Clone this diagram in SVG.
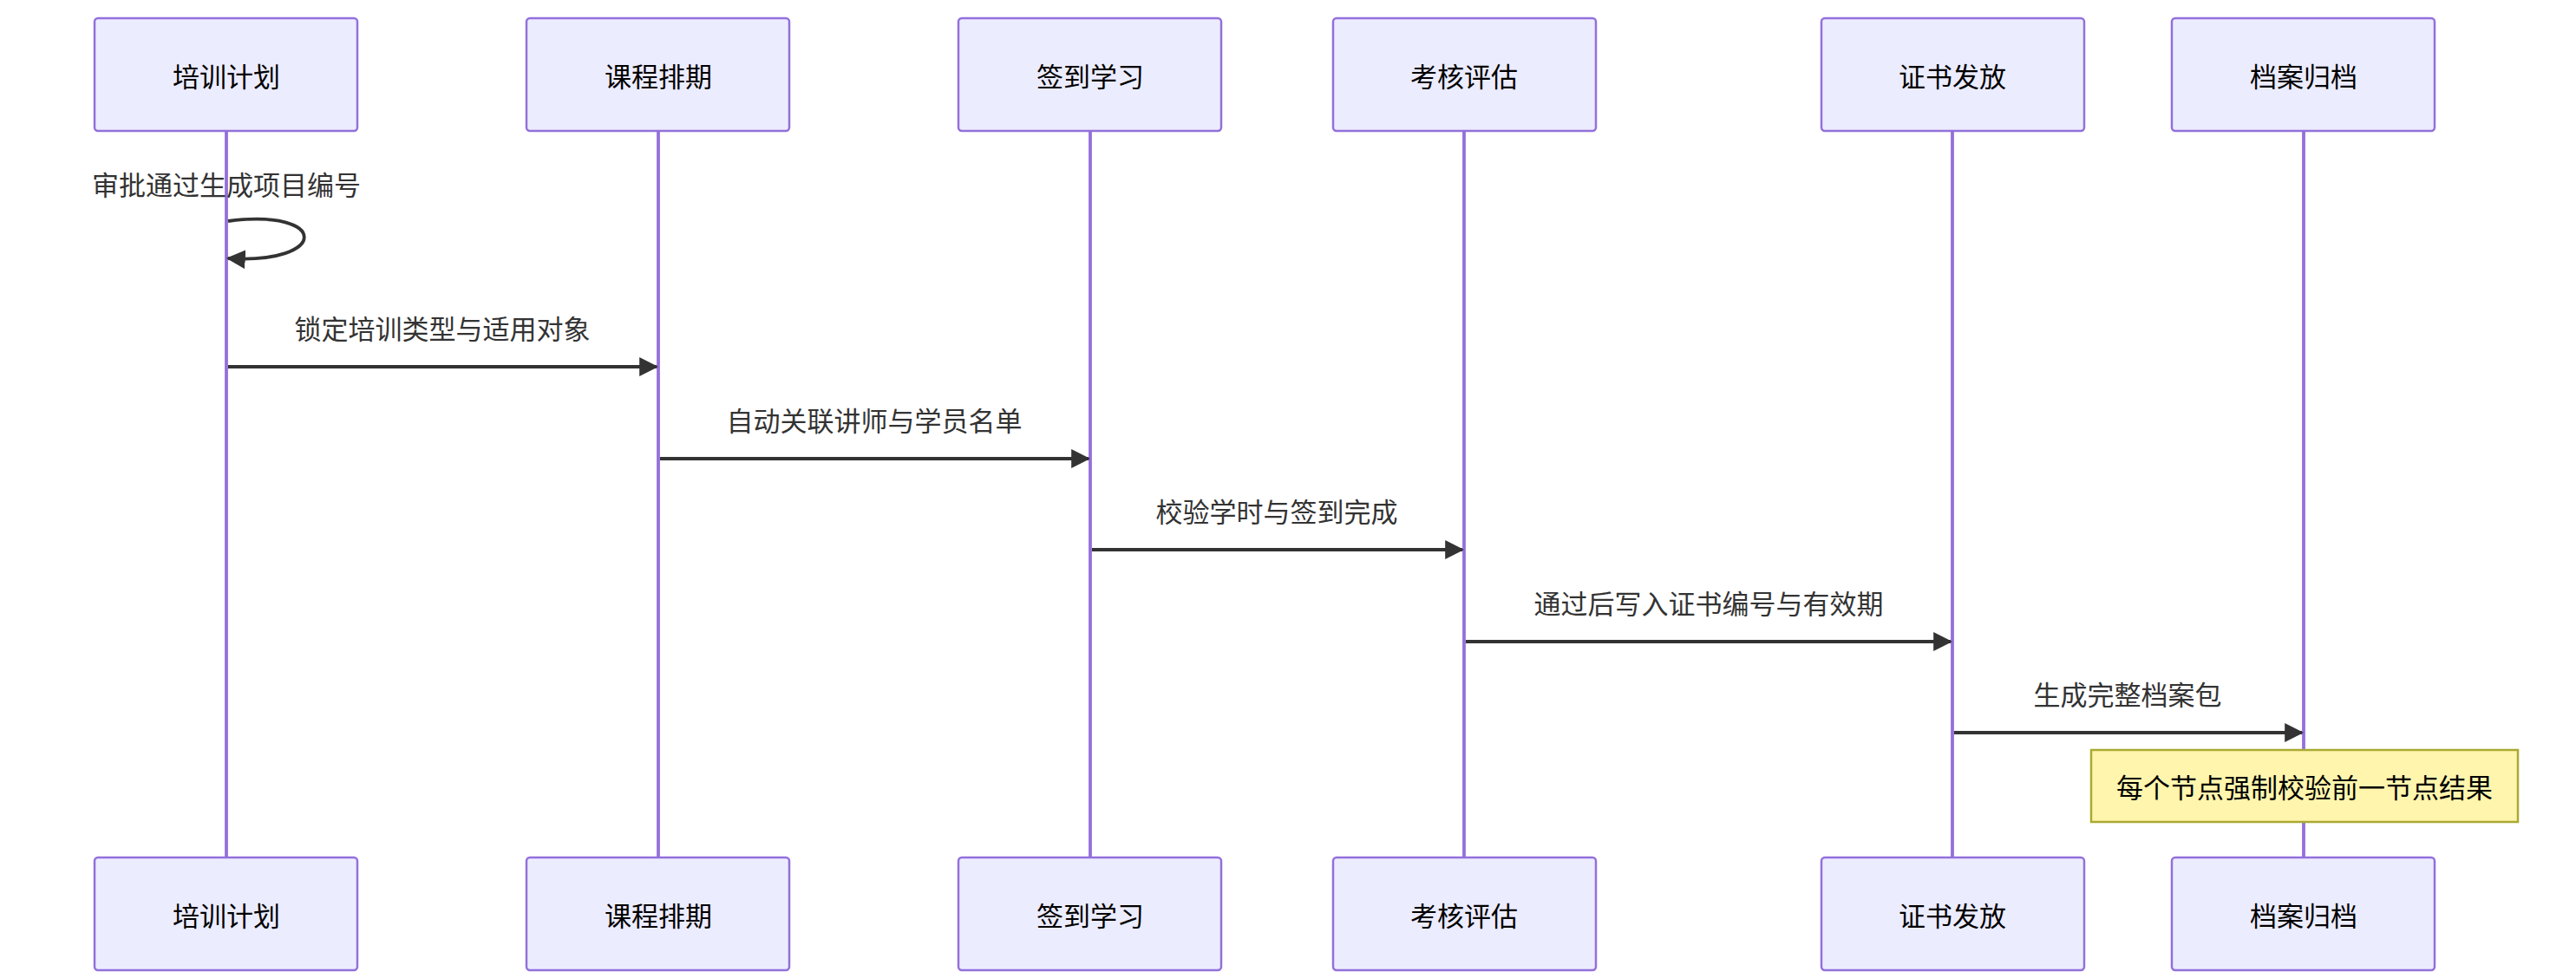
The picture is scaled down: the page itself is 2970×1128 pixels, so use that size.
<svg xmlns="http://www.w3.org/2000/svg" width="2970" height="1128" viewBox="0 0 2970 1128">
<style>
.box{fill:#ECECFF;stroke:#9370DB;stroke-width:2.5}
.life{stroke:#9370DB;stroke-width:3.8}
.msg{stroke:#333;stroke-width:3.8;fill:none}
text{font-family:"Noto Sans CJK SC","Liberation Sans",sans-serif;text-anchor:middle;dominant-baseline:central}
.at{font-size:31px;fill:#000}
.mt{font-size:31px;fill:#333}
</style>
<defs>
<marker id="ah" viewBox="0 0 12 12" refX="11" refY="6" markerWidth="12" markerHeight="12" markerUnits="userSpaceOnUse" orient="auto">
<path d="M0,0 L12,6 L0,12 z" fill="#333"/>
</marker>
<marker id="ahb" viewBox="0 0 10 10" refX="9" refY="5" markerWidth="22" markerHeight="22" markerUnits="userSpaceOnUse" orient="auto">
<path d="M0,0 L10,5 L0,10 z" fill="#333"/>
</marker>
</defs>
<g id="lifelines">
<line class="life" x1="261" y1="151" x2="261" y2="989"/>
<line class="life" x1="759" y1="151" x2="759" y2="989"/>
<line class="life" x1="1257" y1="151" x2="1257" y2="989"/>
<line class="life" x1="1688" y1="151" x2="1688" y2="989"/>
<line class="life" x1="2251" y1="151" x2="2251" y2="989"/>
<line class="life" x1="2656" y1="151" x2="2656" y2="989"/>
</g>
<g id="p1"><rect class="box" x="109" y="21" width="303" height="130" rx="4"/><text class="at" x="261" y="86">培训计划</text>
<rect class="box" x="109" y="989" width="303" height="130" rx="4"/><text class="at" x="261" y="1054">培训计划</text></g>
<g id="p2"><rect class="box" x="607" y="21" width="303" height="130" rx="4"/><text class="at" x="759" y="86">课程排期</text>
<rect class="box" x="607" y="989" width="303" height="130" rx="4"/><text class="at" x="759" y="1054">课程排期</text></g>
<g id="p3"><rect class="box" x="1105" y="21" width="303" height="130" rx="4"/><text class="at" x="1257" y="86">签到学习</text>
<rect class="box" x="1105" y="989" width="303" height="130" rx="4"/><text class="at" x="1257" y="1054">签到学习</text></g>
<g id="p4"><rect class="box" x="1537" y="21" width="303" height="130" rx="4"/><text class="at" x="1688" y="86">考核评估</text>
<rect class="box" x="1537" y="989" width="303" height="130" rx="4"/><text class="at" x="1688" y="1054">考核评估</text></g>
<g id="p5"><rect class="box" x="2100" y="21" width="303" height="130" rx="4"/><text class="at" x="2251" y="86">证书发放</text>
<rect class="box" x="2100" y="989" width="303" height="130" rx="4"/><text class="at" x="2251" y="1054">证书发放</text></g>
<g id="p6"><rect class="box" x="2504" y="21" width="303" height="130" rx="4"/><text class="at" x="2656" y="86">档案归档</text>
<rect class="box" x="2504" y="989" width="303" height="130" rx="4"/><text class="at" x="2656" y="1054">档案归档</text></g>
<g id="connectors">
<path class="msg" d="M263,255 C380,240 380,305 263,298" marker-end="url(#ahb)"/>
<line class="msg" x1="263" y1="423" x2="757" y2="423" marker-end="url(#ahb)"/>
<line class="msg" x1="761" y1="529" x2="1255" y2="529" marker-end="url(#ahb)"/>
<line class="msg" x1="1259" y1="634" x2="1686" y2="634" marker-end="url(#ahb)"/>
<line class="msg" x1="1690" y1="740" x2="2249" y2="740" marker-end="url(#ahb)"/>
<line class="msg" x1="2253" y1="845" x2="2654" y2="845" marker-end="url(#ahb)"/>
</g>
<g id="labels">
<text class="mt" x="261" y="211">审批通过生成项目编号</text>
<text class="mt" x="510" y="377">锁定培训类型与适用对象</text>
<text class="mt" x="1008" y="483">自动关联讲师与学员名单</text>
<text class="mt" x="1472" y="588">校验学时与签到完成</text>
<text class="mt" x="1970" y="694">通过后写入证书编号与有效期</text>
<text class="mt" x="2453" y="799">生成完整档案包</text>
</g>
<g id="note">
<rect x="2411" y="865" width="492" height="83" fill="#FFF5AD" stroke="#AAAA33" stroke-width="2.5"/>
<text class="at" x="2657" y="906">每个节点强制校验前一节点结果</text>
</g>
</svg>
